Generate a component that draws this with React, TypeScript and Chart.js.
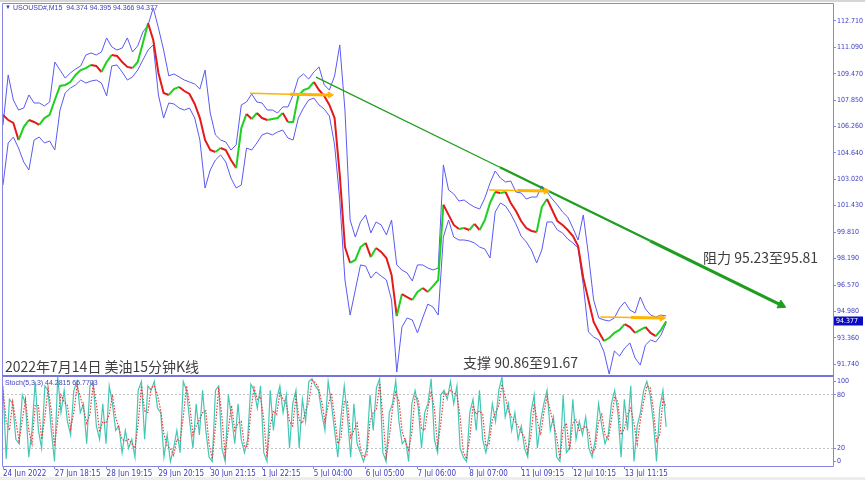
import React, { useEffect, useRef } from "react";
import { Chart, registerables } from "chart.js";
Chart.register(...registerables);

// ---------- data ----------
const TIME_LABELS = [
  "24 Jun 2022", "27 Jun 18:15", "28 Jun 19:15", "29 Jun 20:15", "30 Jun 21:15",
  "1 Jul 22:15", "5 Jul 04:00", "6 Jul 05:00", "7 Jul 06:00", "8 Jul 07:00",
  "11 Jul 09:15", "12 Jul 10:15", "13 Jul 11:15",
];
const TIME_LABEL_BARS = [0, 10, 20, 30, 40, 50, 60, 70, 80, 90, 100, 110, 120];
const PRICE_TICKS = [112.71, 111.09, 109.47, 107.85, 106.26, 104.64, 103.02, 101.43, 99.81, 98.19, 96.57, 94.98, 93.36, 91.74];
// stochastic level labels and where their text sits (100 and 0 are drawn just inside the panel)
const STOCH_LABELS = ["0", "20", "80", "100"];
const STOCH_LABEL_POS = [5.6, 20, 80, 95.5];
const STOCH_LEVELS = [20, 80];

const CLOSE = [
  106.96, 106.65, 106.47, 105.43, 106.22, 106.65, 106.53, 106.35, 106.77, 106.96,
  107.87, 108.73, 108.79, 108.97, 109.40, 109.70, 109.82, 110.01, 109.95, 109.58,
  110.19, 110.62, 110.56, 110.19, 109.89, 109.82, 110.19, 111.35, 112.55, 111.53,
  109.52, 108.30, 108.18, 108.54, 108.67, 108.42, 108.24, 107.63, 106.77, 105.43,
  104.82, 104.70, 104.94, 104.82, 104.21, 103.72, 106.16, 107.02, 106.71, 107.08,
  106.77, 106.65, 106.71, 106.77, 107.08, 106.53, 106.53, 108.12, 108.48, 108.60,
  108.97, 108.48, 108.12, 107.57, 106.77, 103.30, 98.90, 97.93, 98.11, 98.90,
  99.15, 98.29, 98.84, 98.60, 98.23, 97.20, 94.69, 96.03, 95.85, 95.67,
  96.16, 96.40, 96.16, 96.52, 96.89, 101.48, 100.86, 100.25, 100.00, 100.06,
  99.94, 100.31, 99.94, 100.55, 101.59, 102.26, 102.20, 102.26, 101.59, 101.10,
  100.49, 100.06, 99.88, 99.82, 101.34, 101.83, 101.16, 100.49, 100.25, 99.94,
  99.57, 98.96, 97.01, 95.67, 94.33, 93.72, 93.17, 93.35, 93.66, 93.84,
  94.20, 94.02, 93.66, 93.84, 94.02, 93.66, 93.47, 93.84, 94.377,
];
const UPPER = [
  106.35, 109.40, 107.87, 107.26, 107.38, 108.18, 107.69, 107.69, 107.51, 107.75,
  110.19, 109.70, 109.21, 109.52, 109.76, 109.95, 110.62, 110.74, 110.62, 110.80,
  111.66, 111.11, 110.92, 111.04, 111.66, 110.80, 111.17, 112.02, 112.45, 113.49,
  112.27, 110.92, 109.34, 109.46, 109.28, 109.09, 108.97, 108.85, 108.54, 109.70,
  107.08, 105.74, 105.43, 105.31, 104.82, 105.13, 107.57, 107.75, 108.24, 107.75,
  107.69, 107.26, 107.26, 107.08, 107.45, 107.45, 108.18, 109.21, 109.46, 109.15,
  109.58, 109.89, 108.79, 108.48, 109.34, 111.23, 107.26, 100.55, 99.51, 100.43,
  100.86, 99.76, 100.43, 100.25, 99.64, 100.55, 97.81, 97.50, 97.32, 96.83,
  97.81, 97.81, 97.62, 97.50, 97.62, 103.91, 102.38, 102.14, 101.71, 101.77,
  101.53, 101.34, 101.22, 101.89, 102.81, 103.54, 103.11, 102.87, 102.93, 102.26,
  102.20, 101.83, 101.95, 101.95, 102.63, 102.26, 101.83, 101.47, 101.04, 100.73,
  100.06, 99.33, 100.86, 98.42, 95.67, 94.57, 94.45, 94.39, 94.57, 95.18,
  95.55, 95.06, 94.88, 95.85, 95.12, 94.75, 94.63, 94.75, 94.69,
];
const LOWER = [
  102.69, 105.25, 105.61, 104.94, 104.09, 103.60, 105.43, 105.61, 105.25, 105.37,
  104.82, 107.26, 108.30, 108.60, 108.79, 109.09, 108.91, 109.03, 109.09, 108.91,
  108.12, 109.95, 110.01, 109.58, 109.09, 109.28, 109.70, 110.31, 110.92, 111.23,
  108.18, 106.77, 107.69, 107.63, 107.38, 107.26, 107.38, 106.77, 105.43, 102.50,
  103.60, 104.21, 104.52, 104.09, 103.11, 102.50, 102.69, 104.94, 104.82, 105.25,
  105.74, 105.86, 105.74, 105.92, 106.04, 105.55, 105.43, 106.77, 107.38, 107.87,
  107.99, 107.57, 107.32, 106.90, 105.13, 101.77, 96.89, 94.75, 96.28, 97.81,
  97.74, 97.01, 97.38, 97.13, 96.89, 95.67, 91.27, 94.02, 94.57, 94.45,
  93.66, 94.57, 95.42, 95.24, 94.75, 99.51, 100.55, 99.51, 99.33, 99.33,
  99.27, 99.15, 98.90, 98.78, 98.23, 101.04, 101.59, 101.40, 100.92, 100.31,
  99.57, 99.21, 98.72, 97.93, 98.72, 100.43, 100.43, 99.94, 99.76, 99.39,
  99.15, 98.84, 96.58, 93.72, 93.41, 93.23, 92.50, 91.15, 92.56, 92.25,
  92.74, 93.05, 92.13, 91.70, 92.92, 93.23, 93.11, 93.53, 94.27,
];
const STOCH_K = [
  90, 8, 75, 70, 30, 25, 80, 70, 10, 40,
  95, 40, 20, 90, 85, 40, 5, 100, 60, 85,
  50, 35, 85, 95, 60, 70, 25, 90, 95, 45,
  30, 70, 25, 90, 70, 40, 45, 15, 40, 20,
  30, 10, 85, 95, 30, 90, 85, 95, 65, 60,
  10, 35, 5, 20, 40, 15, 95, 85, 50, 20,
  70, 35, 85, 40, 10, 5, 85, 90, 20, 5,
  80, 55, 25, 70, 30, 15, 30, 92, 85, 65,
  90, 15, 5, 85, 40, 75, 90, 60, 80, 20,
  70, 85, 20, 75, 50, 95, 98, 90, 85, 60,
  40, 95, 70, 40, 10, 55, 90, 55, 10, 70,
  25, 15, 5, 20, 80, 40, 88, 98, 15, 5,
  60, 70, 96, 50, 25, 30, 5, 70, 85, 65,
  20, 60, 70, 98, 30, 15, 80, 85, 75, 95,
  70, 90, 20, 10, 5, 60, 75, 40, 85, 30,
  15, 35, 70, 50, 85, 100, 55, 70, 40, 60,
  30, 45, 20, 10, 60, 80, 20, 50, 70, 85,
  40, 55, 10, 5, 80, 15, 20, 75, 30, 50,
  35, 55, 20, 10, 30, 70, 45, 25, 35, 70,
  85, 60, 10, 75, 40, 90, 5, 45, 60, 85,
  95, 80, 50, 5, 65, 85, 44,
];
const STOCH_D = [
  85, 50, 40, 72, 50, 28, 52, 75, 40, 25,
  68, 68, 30, 55, 88, 62, 22, 52, 80, 72,
  68, 42, 60, 90, 78, 65, 48, 58, 92, 70,
  38, 50, 48, 58, 80, 55, 42, 30, 28, 30,
  25, 20, 48, 90, 62, 60, 88, 90, 80, 62,
  35, 22, 20, 12, 30, 28, 55, 90, 68, 35,
  45, 52, 60, 62, 25, 8, 45, 88, 55, 12,
  42, 68, 40, 48, 50, 22, 22, 62, 88, 75,
  78, 52, 10, 45, 62, 58, 82, 75, 70, 50,
  45, 78, 52, 48, 62, 72, 96, 94, 88, 72,
  50, 68, 82, 55, 25, 32, 72, 72, 32, 40,
  48, 20, 10, 12, 50, 60, 64, 93, 56, 10,
  32, 65, 83, 73, 38, 28, 18, 38, 78, 75,
  42, 40, 65, 84, 64, 22, 48, 82, 80, 85,
  82, 80, 55, 15, 8, 32, 68, 58, 62, 58,
  22, 25, 52, 60, 68, 92, 78, 62, 55, 50,
  45, 38, 32, 15, 35, 70, 50, 35, 60, 78,
  62, 48, 32, 8, 42, 48, 18, 48, 52, 40,
  42, 45, 38, 15, 20, 50, 58, 35, 30, 52,
  78, 72, 35, 42, 58, 65, 48, 25, 52, 72,
  90, 88, 65, 28, 35, 75, 66,
];

// trend line (bar index, price)
const TREND_BARS = [60.4, 95.9, 124.9, 150.2];
const TREND_PRICES = [109.27, 103.77, 99.28, 95.36];
// horizontal orange arrows: start, middle, end
const ARROW_BARS = [[47.7, 55.4, 63.1], [93.8, 99.3, 104.8], [115.3, 121.2, 127.2]];
const ARROW_PRICES = [[108.28, 108.23, 108.18], [102.38, 102.35, 102.32], [94.63, 94.60, 94.57]];

// ---------- style constants ----------
const X_MAX = 160.2;
const PRICE_MIN = 91.093;
const PRICE_MAX = 113.729;
const STOCH_MIN = 0;
const STOCH_MAX = 100;
const STOCH_STEP = 128 / (STOCH_K.length - 1);
const AXIS = "#8686e6";
const LABEL = "#3c3cc0";
const AXIS_FONT = "'Liberation Sans Narrow', 'DejaVu Sans Condensed', 'Liberation Sans', sans-serif";
const BAND = "#5a5af2";
const TREND_COLOR = "#1e9e1e";
const ARROW_COLOR = "#ffb400";

const pts = (xs: number[], ys: number[]) => xs.map((x, i) => ({ x, y: ys[i] }));

const fitY = (s: any) => {
  s.width = 32;
  s.paddingTop = 0;
  s.paddingBottom = 0;
};
const fitX = (s: any) => {
  s.height = 14;
  s.paddingLeft = 0;
  s.paddingRight = 0;
};

export default function App() {
  const mainRef = useRef<HTMLCanvasElement>(null);
  const stochRef = useRef<HTMLCanvasElement>(null);

  useEffect(() => {
    const mainFrame = {
      id: "mainFrame",
      afterDraw(chart: any) {
        const { ctx, chartArea } = chart;
        const { left, top, right, bottom } = chartArea;
        ctx.save();
        ctx.strokeStyle = AXIS;
        ctx.lineWidth = 1;
        ctx.beginPath();
        ctx.moveTo(left - 0.5, chart.height);
        ctx.lineTo(left - 0.5, top - 0.5);
        ctx.lineTo(right + 0.5, top - 0.5);
        ctx.lineTo(right + 0.5, chart.height);
        ctx.stroke();
        ctx.strokeStyle = "#7474de";
        ctx.lineWidth = 2;
        ctx.beginPath();
        ctx.moveTo(left - 1, bottom + 1);
        ctx.lineTo(right + 1, bottom + 1);
        ctx.stroke();
        // current price box
        const last = CLOSE[CLOSE.length - 1];
        const y = chart.scales.y.getPixelForValue(last);
        ctx.fillStyle = "#0b0bc4";
        ctx.fillRect(right + 1, Math.round(y) - 4.5, 29, 9);
        ctx.fillStyle = "#ffffff";
        ctx.font = `7px ${AXIS_FONT}`;
        ctx.textBaseline = "middle";
        ctx.textAlign = "left";
        ctx.fillText(last.toFixed(3), right + 3, Math.round(y));
        ctx.restore();
      },
    };
    const stochFrame = {
      id: "stochFrame",
      afterDraw(chart: any) {
        const { ctx, chartArea } = chart;
        const { left, right, bottom } = chartArea;
        ctx.save();
        ctx.strokeStyle = AXIS;
        ctx.lineWidth = 1;
        ctx.beginPath();
        ctx.moveTo(left - 0.5, 0);
        ctx.lineTo(left - 0.5, bottom + 0.5);
        ctx.lineTo(right + 0.5, bottom + 0.5);
        ctx.lineTo(right + 0.5, 0);
        ctx.stroke();
        ctx.restore();
      },
    };

    const line = (data: any[], color: string, width: number, order: number, extra: any = {}) => ({
      type: "line",
      data,
      borderColor: color,
      borderWidth: width,
      pointRadius: 0,
      tension: 0,
      order,
      ...extra,
    });

    const datasets: any[] = [];
    // bands
    datasets.push(line(pts(UPPER.map((_, i) => i), UPPER), BAND, 1, 20));
    datasets.push(line(pts(LOWER.map((_, i) => i), LOWER), BAND, 1, 20));
    // price
    datasets.push(
      line(pts(CLOSE.map((_, i) => i), CLOSE), "#20c020", 2, 10, {
        segment: {
          borderColor: (c: any) => (c.p1.parsed.y >= c.p0.parsed.y ? "#1fd01f" : "#e41a1a"),
        },
      })
    );
    // trend line segments (tapered)
    const trendWidths = [1.3, 2.2, 3.2];
    for (let s = 0; s < 3; s++) {
      datasets.push(
        line(pts(TREND_BARS.slice(s, s + 2), TREND_PRICES.slice(s, s + 2)), TREND_COLOR, trendWidths[s], 2)
      );
    }
    datasets.push({
      type: "line",
      data: pts([TREND_BARS[3]], [TREND_PRICES[3]]),
      showLine: false,
      pointStyle: "triangle",
      pointRadius: 5,
      pointRotation: 116,
      pointBackgroundColor: TREND_COLOR,
      pointBorderColor: TREND_COLOR,
      pointBorderWidth: 1,
      order: 1,
    });
    // orange arrows
    ARROW_BARS.forEach((bars, a) => {
      const prices = ARROW_PRICES[a];
      datasets.push(line(pts(bars.slice(0, 2), prices.slice(0, 2)), ARROW_COLOR, 1.5, 3));
      datasets.push(line(pts(bars.slice(1, 3), prices.slice(1, 3)), ARROW_COLOR, 3, 3));
      datasets.push({
        type: "line",
        data: pts([bars[2]], [prices[2]]),
        showLine: false,
        pointStyle: "triangle",
        pointRadius: 3.5,
        pointRotation: 90,
        pointBackgroundColor: ARROW_COLOR,
        pointBorderColor: ARROW_COLOR,
        pointBorderWidth: 1,
        order: 1,
      });
    });

    const main = new Chart(mainRef.current as HTMLCanvasElement, {
      type: "line",
      data: { datasets },
      plugins: [mainFrame],
      options: {
        animation: false,
        responsive: false,
        events: [],
        layout: { autoPadding: false, padding: { left: 3, top: 4, right: 0, bottom: 2 } },
        plugins: { legend: { display: false }, tooltip: { enabled: false } },
        scales: {
          x: { type: "linear", display: false, min: 0, max: X_MAX },
          y: {
            type: "linear",
            position: "right",
            min: PRICE_MIN,
            max: PRICE_MAX,
            afterBuildTicks: (s: any) => {
              s.ticks = PRICE_TICKS.map((v) => ({ value: v }));
            },
            afterFit: fitY,
            grid: { drawOnChartArea: false, tickLength: 3, color: AXIS, tickColor: AXIS },
            border: { display: false },
            ticks: {
              color: LABEL,
              padding: 1,
              font: { family: AXIS_FONT, size: 7 },
              callback: (v: any) => Number(v).toFixed(3),
            },
          },
        },
      } as any,
    } as any);

    const stoch = new Chart(stochRef.current as HTMLCanvasElement, {
      type: "line",
      data: {
        datasets: [
          line(pts(STOCH_D.map((_, j) => j * STOCH_STEP), STOCH_D), "#f03a3a", 1.2, 1, { borderDash: [1.5, 1.5] }),
          line(pts(STOCH_K.map((_, j) => j * STOCH_STEP), STOCH_K), "#44c8b6", 1.2, 2),
        ],
      },
      plugins: [stochFrame],
      options: {
        animation: false,
        responsive: false,
        events: [],
        layout: { autoPadding: false, padding: { left: 3, top: 1, right: 0, bottom: 0 } },
        plugins: { legend: { display: false }, tooltip: { enabled: false } },
        scales: {
          x: {
            type: "linear",
            position: "bottom",
            min: 0,
            max: X_MAX,
            afterBuildTicks: (s: any) => {
              s.ticks = TIME_LABEL_BARS.map((v) => ({ value: v }));
            },
            afterFit: fitX,
            grid: { drawOnChartArea: false, tickLength: 3, color: AXIS, tickColor: AXIS },
            border: { display: false },
            ticks: {
              color: LABEL,
              align: "start",
              padding: 0,
              autoSkip: false,
              maxRotation: 0,
              font: { family: AXIS_FONT, size: 8 },
              callback: (_v: any, idx: number) => TIME_LABELS[idx],
            },
          },
          y: {
            type: "linear",
            position: "right",
            min: STOCH_MIN,
            max: STOCH_MAX,
            afterBuildTicks: (s: any) => {
              s.ticks = STOCH_LABEL_POS.map((v) => ({ value: v }));
            },
            afterFit: fitY,
            grid: {
              drawOnChartArea: true,
              tickLength: 3,
              tickColor: AXIS,
              color: (c: any) =>
                c.tick && STOCH_LEVELS.includes(c.tick.value) ? "#c4c4c4" : "rgba(0,0,0,0)",
            },
            border: { display: false, dash: [2, 2] },
            ticks: {
              color: LABEL,
              padding: 1,
              font: { family: AXIS_FONT, size: 7 },
              callback: (_v: any, idx: number) => STOCH_LABELS[idx],
            },
          },
        },
      } as any,
    } as any);

    return () => {
      main.destroy();
      stoch.destroy();
    };
  }, []);

  const cjk: React.CSSProperties = {
    position: "absolute",
    fontFamily: "'Noto Sans CJK SC', sans-serif",
    fontSize: "14px",
    lineHeight: 1,
    color: "#3e3e3e",
    whiteSpace: "nowrap",
  };
  const small: React.CSSProperties = {
    position: "absolute",
    fontFamily: "'Liberation Sans', sans-serif",
    fontSize: "7px",
    lineHeight: 1,
    color: "#4040c4",
    whiteSpace: "nowrap",
  };

  return (
    <div style={{ position: "fixed", left: 0, top: 0, width: 865, height: 480, background: "#ffffff", overflow: "hidden" }}>
      <div style={{ position: "absolute", left: 0, top: 0, width: 865, height: 2, background: "#d6d6d6" }} />
      <canvas ref={mainRef} width={865} height={377} style={{ position: "absolute", left: 0, top: 0, display: "block" }} />
      <canvas ref={stochRef} width={865} height={104} style={{ position: "absolute", left: 0, top: 376, display: "block" }} />
      <div style={{ position: "absolute", left: 0, top: 477, width: 865, height: 3, background: "#ededed" }} />
      <div style={{ ...small, left: 5, top: 4, fontSize: "6px" }}>▼</div>
      <div style={{ ...small, left: 13, top: 3.5 }}>USOUSD#,M15&nbsp; 94.374 94.395 94.366 94.377</div>
      <div style={{ ...small, left: 5, top: 378.5 }}>Stoch(5,3,3) 44.2815 65.7703</div>
      <div style={{ ...cjk, left: 5, top: 358.5 }}>2022年7月14日 美油15分钟K线</div>
      <div style={{ ...cjk, left: 463, top: 354.5 }}>支撑 90.86至91.67</div>
      <div style={{ ...cjk, left: 703, top: 249.5 }}>阻力 95.23至95.81</div>
    </div>
  );
}
